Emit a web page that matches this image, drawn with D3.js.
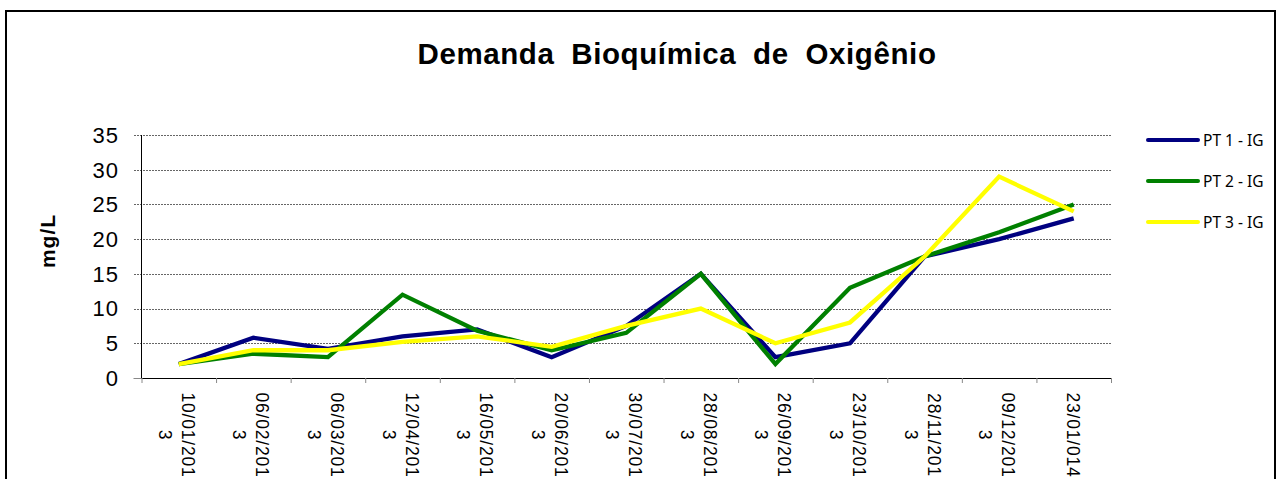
<!DOCTYPE html>
<html lang="pt">
<head>
<meta charset="UTF-8">
<script src="https://d3js.org/d3.v7.min.js"></script>
<title>Demanda Bioquímica de Oxigênio</title>
<style>
  body { margin: 0; background: #fff; }
  text { font-family: "Liberation Sans", Arial, sans-serif; fill: #000; }
</style>
</head>
<body>
<script>
// datas de coleta (quebradas em duas linhas como no original)
var datas = [
    ["10/01/201", "3"], ["06/02/201", "3"], ["06/03/201", "3"], ["12/04/201", "3"],
    ["16/05/201", "3"], ["20/06/201", "3"], ["30/07/201", "3"], ["28/08/201", "3"],
    ["26/09/201", "3"], ["23/10/201", "3"], ["28/11/201", "3"], ["09/12/201", "3"],
    ["23/01/014"]
];
var pt1 = [2, 5.8, 4.2, 6, 7, 3, 7.5, 15, 3, 5, 17.5, 20, 23];
var pt2 = [2, 3.5, 3, 12, 6.8, 4, 6.5, 15, 2, 13, 17.5, 21, 25];
var pt3 = [2, 4, 4, 5.2, 6, 4.5, 7.5, 10, 5, 8, 17.5, 29, 24];
var nomes = ["PT 1 - IG", "PT 2 - IG", "PT 3 - IG"];
var cores = ["#000080", "#008000", "#ffff00"];
var yTicks = [0, 5, 10, 15, 20, 25, 30, 35];

var width = 1277, height = 479;
var pLeft = 141.5, pRight = 1111, pTop = 135, pBottom = 378;

var svg = d3.select("body").append("svg")
    .attr("width", width)
    .attr("height", height);

svg.append("rect")
    .attr("width", width).attr("height", height)
    .attr("fill", "#fff");

// moldura do grafico
svg.append("rect")
    .attr("x", 6).attr("y", 11)
    .attr("width", 1269).attr("height", 520)
    .attr("fill", "none")
    .attr("stroke", "#000")
    .attr("stroke-width", 2);

var x = d3.scaleLinear().domain([0, datas.length]).range([pLeft, pRight]);
var y = d3.scaleLinear().domain([0, 35]).range([pBottom, pTop]);

// linhas de grade (pontilhadas)
svg.append("g").selectAll("line")
    .data(yTicks.filter(function (d) { return d > 0; }))
    .enter().append("line")
    .attr("x1", pLeft - 8).attr("x2", pRight)
    .attr("y1", function (d) { return Math.round(y(d)) + 0.5; })
    .attr("y2", function (d) { return Math.round(y(d)) + 0.5; })
    .attr("stroke", "#666")
    .attr("stroke-dasharray", "2,1")
    .attr("shape-rendering", "crispEdges");

// eixo y
svg.append("line")
    .attr("x1", pLeft).attr("x2", pLeft)
    .attr("y1", pTop).attr("y2", pBottom)
    .attr("stroke", "#000")
    .attr("shape-rendering", "crispEdges");
svg.append("line")
    .attr("x1", pLeft - 8).attr("x2", pLeft)
    .attr("y1", pBottom + 0.5).attr("y2", pBottom + 0.5)
    .attr("stroke", "#888");

svg.append("g").selectAll("text")
    .data(yTicks)
    .enter().append("text")
    .attr("x", 119)
    .attr("y", function (d) { return y(d); })
    .attr("dy", "0.36em")
    .attr("text-anchor", "end")
    .style("font-size", "22px")
    .style("letter-spacing", "1px")
    .text(function (d) { return d; });

// eixo x
var xAxis = d3.axisBottom(x)
    .tickValues(d3.range(0, datas.length + 1))
    .tickSize(5)
    .tickFormat("");
var gx = svg.append("g")
    .attr("transform", "translate(0," + pBottom + ")")
    .call(xAxis);
gx.select(".domain").attr("stroke", "#000").attr("d", "M" + pLeft + ",0.5H" + pRight);
gx.selectAll(".tick line").attr("stroke", "#888");

var rot = svg.append("g").selectAll("g")
    .data(datas)
    .enter().append("g")
    .attr("transform", function (d, i) {
        return "translate(" + x(i + 0.5) + ",391) rotate(90)";
    });
rot.each(function (d) {
    var g = d3.select(this);
    var offs = d.length > 1 ? [-3, 20] : [7];
    d.forEach(function (linha, k) {
        g.append("text")
            .attr("x", 44)
            .attr("y", offs[k])
            .attr("text-anchor", "middle")
            .style("font-size", "17.5px")
            .style("letter-spacing", "0.8px")
            .text(linha);
    });
});

// series
var series = [pt1, pt2, pt3];
var line = d3.line()
    .x(function (d, i) { return x(i + 0.5); })
    .y(function (d) { return y(d); });

svg.append("g").selectAll("path")
    .data(series)
    .enter().append("path")
    .attr("d", line)
    .attr("fill", "none")
    .attr("stroke", function (d, i) { return cores[i]; })
    .attr("stroke-width", 4.3)
    .attr("stroke-linejoin", "miter");

// titulo
svg.append("text")
    .attr("x", 677)
    .attr("y", 64)
    .attr("text-anchor", "middle")
    .style("font-size", "29.5px")
    .style("font-weight", "bold")
    .style("letter-spacing", "0.6px")
    .style("word-spacing", "8px")
    .text("Demanda Bioquímica de Oxigênio");

svg.append("text")
    .attr("transform", "translate(55,241) rotate(-90)")
    .attr("text-anchor", "middle")
    .style("font-size", "21px")
    .style("font-weight", "bold")
    .style("letter-spacing", "1px")
    .text("mg/L");

// legenda
var leg = svg.append("g").selectAll("g")
    .data(nomes)
    .enter().append("g")
    .attr("transform", function (d, i) { return "translate(1148," + (140 + i * 41) + ")"; });
leg.append("line")
    .attr("x1", 0).attr("x2", 50)
    .attr("stroke", function (d, i) { return cores[i]; })
    .attr("stroke-width", 4)
    .attr("stroke-linecap", "round");
leg.append("text")
    .attr("x", 55)
    .attr("dy", "0.36em")
    .style("font-family", "'Noto Sans', sans-serif")
    .style("font-size", "15.5px")
    .text(function (d) { return d; });
</script>
</body>
</html>
